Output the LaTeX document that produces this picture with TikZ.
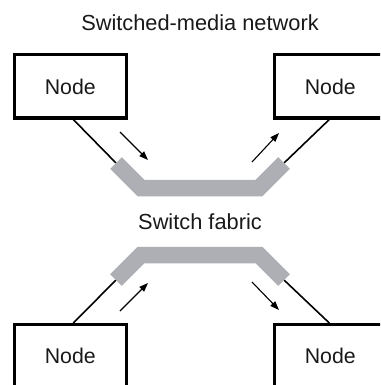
\documentclass[tikz,border=0pt]{standalone}
\usepackage{fontspec}
\setmainfont{Liberation Sans}
\usetikzlibrary{arrows.meta}
\definecolor{fabric}{RGB}{174,175,181}
\definecolor{ink}{RGB}{25,25,25}
\begin{document}
\begin{tikzpicture}[x=1pt,y=-1pt,
  nodebox/.style={draw=black,line width=3pt,minimum width=111.5pt,minimum height=63pt,
    inner sep=0pt,font=\fontsize{21.3}{25}\selectfont,text=ink},
  label/.style={font=\fontsize{21.8}{25}\selectfont,text=ink},
  wire/.style={line width=1.6pt,black},
  band/.style={line width=16.5pt,fabric,line join=miter,line cap=butt},
  flow/.style={line width=1.1pt,-{Triangle[length=9pt,width=6.5pt]}}]
\useasboundingbox (0,0) rectangle (380,385);
\clip (0,0) rectangle (380,385);

% end points of the two fabric bands and their bends
\coordinate (e1) at (116,163); \coordinate (j1) at (141,188);
\coordinate (j2) at (259,188); \coordinate (e2) at (284,163);
\coordinate (e3) at (116,280); \coordinate (j3) at (141,255);
\coordinate (j4) at (259,255); \coordinate (e4) at (284,280);

% traffic direction arrows
\coordinate (a1s) at (120,132); \coordinate (a1e) at (148,160);
\coordinate (a2s) at (252,162); \coordinate (a2e) at (279,133);
\coordinate (a3s) at (120,311); \coordinate (a3e) at (148,283);
\coordinate (a4s) at (252,282); \coordinate (a4e) at (279,310);

\node[label] (title) at (200,23) {Switched-media network};
\node[label] (fab) at (200,222) {Switch fabric};

\node[nodebox] (tl) at (70.3,86.5) {Node};
\node[nodebox] (tr) at (330.3,86.5) {Node};
\node[nodebox] (bl) at (70.3,356) {Node};
\node[nodebox] (br) at (330.3,356) {Node};

% links from the nodes to the fabric
\draw[wire] ([xshift=3pt]tl.south) -- (e1);
\draw[wire] ([xshift=-1pt]tr.south) -- (e2);
\draw[wire] ([xshift=3pt]bl.north) -- (e3);
\draw[wire] ([xshift=-1pt]br.north) -- (e4);

% fabric bands
\draw[band] (e1) -- (j1) -- (j2) -- (e2);
\draw[band] (e3) -- (j3) -- (j4) -- (e4);

\draw[flow] (a1s) -- (a1e);
\draw[flow] (a2s) -- (a2e);
\draw[flow] (a3s) -- (a3e);
\draw[flow] (a4s) -- (a4e);
\end{tikzpicture}
\end{document}
